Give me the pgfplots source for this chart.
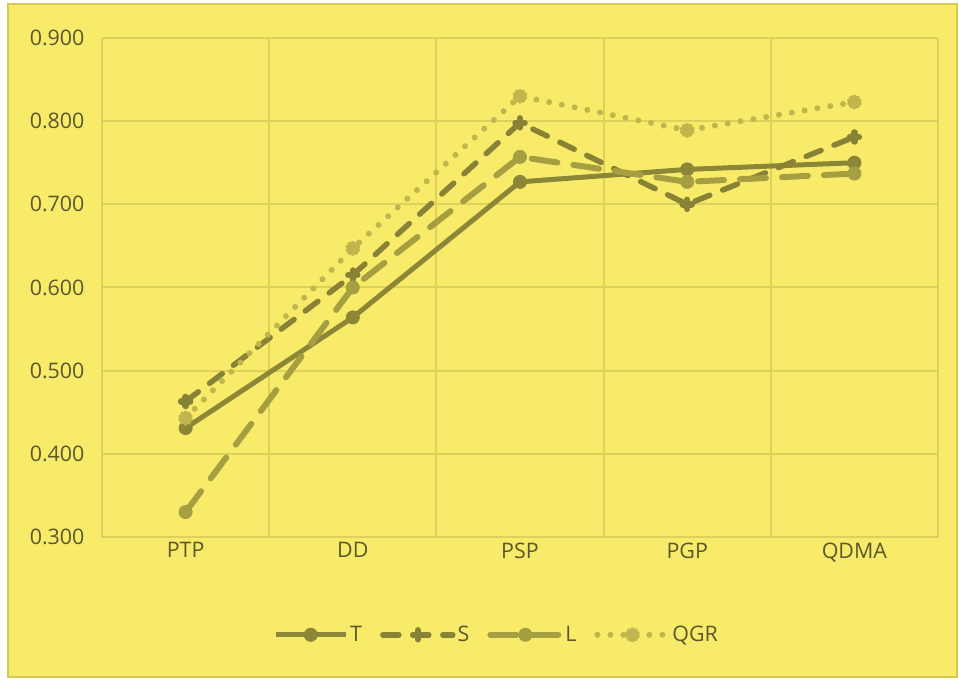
\documentclass[border=0pt]{standalone}
\usepackage{fontspec}
\setmainfont{Open Sans}
\usepackage{pgfplots}
\pgfplotsset{compat=1.18}
\usetikzlibrary{plotmarks}
\definecolor{bg}{RGB}{249,235,106}
\definecolor{bordc}{RGB}{214,200,80}
\definecolor{gridc}{RGB}{222,208,92}
\definecolor{txt}{RGB}{90,88,44}
\definecolor{tcol}{RGB}{140,134,55}
\definecolor{scol}{RGB}{136,130,54}
\definecolor{lcol}{RGB}{166,159,66}
\definecolor{qcol}{RGB}{192,182,76}
\begin{document}
\begin{tikzpicture}
\fill[white] (0bp,0bp) rectangle (959bp,681bp);
\filldraw[fill=bg, draw=bordc, line width=2bp] (8bp,4bp) rectangle (957bp,677bp);
\begin{axis}[
  at={(102bp,144bp)}, anchor=south west,
  scale only axis, width=836bp, height=499bp,
  xmin=-0.5, xmax=4.5, ymin=0.3, ymax=0.9,
  xtick={0,1,2,3,4},
  xticklabels={PTP,DD,PSP,PGP,QDMA},
  minor xtick={-0.5,0.5,1.5,2.5,3.5,4.5},
  ytick={0.3,0.4,0.5,0.6,0.7,0.8,0.9},
  xminorgrids=true, ymajorgrids=true,
  grid style={gridc, line width=2bp},
  minor grid style={gridc, line width=2bp},
  axis line style={draw=none},
  major tick style={draw=none}, minor tick style={draw=none},
  tick label style={font=\fontsize{21.5}{25}\selectfont, text=txt},
  yticklabel style={xshift=-14bp, /pgf/number format/fixed, /pgf/number format/fixed zerofill, /pgf/number format/precision=3, /pgf/number format/assume math mode=true},
  xticklabel style={yshift=-2bp},
  legend columns=4,
  legend style={draw=none, fill=none, at={(0.472,-0.196)}, anchor=center,
    font=\fontsize{21.5}{25}\selectfont, text=txt,
    /tikz/every even column/.append style={column sep=16bp}},
  legend image code/.code={\draw[mark repeat=2,mark phase=2] plot coordinates {(0bp,0bp) (35bp,0bp) (70bp,0bp)};},
]
\addplot[tcol, line width=5bp, mark=*, mark size=6.5bp, mark options={solid, line width=1bp}] coordinates {
 (0,0.431) (1,0.564) (2,0.727) (3,0.742) (4,0.750)};
\addlegendentry{T}
\addplot[scol, line width=5.5bp, dash pattern=on 16bp off 14bp, line cap=round, mark=+, mark size=4.5bp, mark options={solid, line width=6.5bp, line cap=round}] coordinates {
 (0,0.463) (1,0.615) (2,0.798) (3,0.700) (4,0.781)};
\addlegendentry{S}
\addplot[lcol, line width=6bp, dash pattern=on 26bp off 16bp, line cap=round, mark=*, mark size=6.5bp, mark options={solid, line width=1bp}] coordinates {
 (0,0.330) (1,0.600) (2,0.757) (3,0.727) (4,0.737)};
\addlegendentry{L}
\addplot[qcol, line width=6bp, dash pattern=on 0bp off 13bp, line cap=round, mark=10-pointed star, mark size=5.5bp, mark options={solid, line width=4bp}] coordinates {
 (0,0.443) (1,0.647) (2,0.830) (3,0.789) (4,0.823)};
\addlegendentry{QGR}
\end{axis}
\end{tikzpicture}
\end{document}
